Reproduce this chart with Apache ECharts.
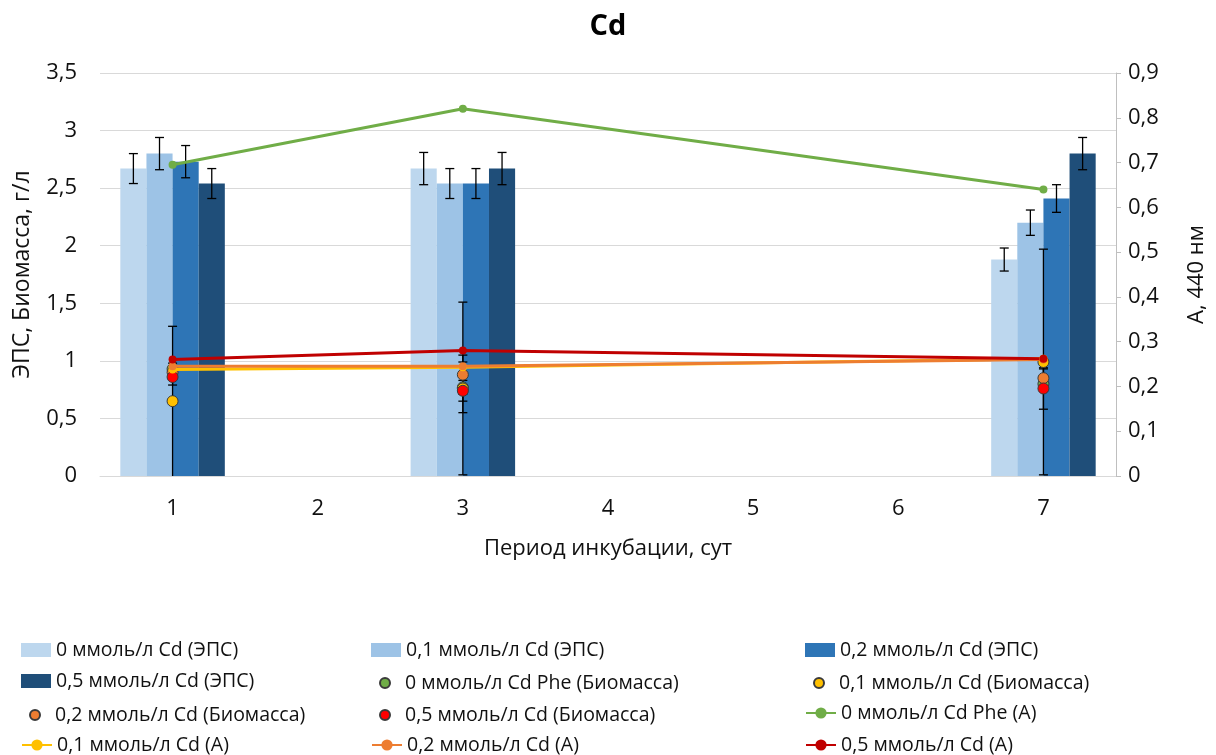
<!DOCTYPE html>
<html>
<head>
<meta charset="utf-8">
<script src="https://cdn.jsdelivr.net/npm/echarts@6/dist/echarts.min.js"></script>
<style>
  html, body { margin: 0; padding: 0; background: #fff; }
  #main { width: 1216px; height: 755px; }
</style>
</head>
<body>
<div id="main"></div>
<script>
// периоды инкубации
var days = ['1', '2', '3', '4', '5', '6', '7'];

// ЭПС, г/л (столбцы)
var eps0 = [2.67, '-', 2.67, '-', '-', '-', 1.88];
var eps01 = [2.8, '-', 2.54, '-', '-', '-', 2.2];
var eps02 = [2.73, '-', 2.54, '-', '-', '-', 2.41];
var eps05 = [2.54, '-', 2.67, '-', '-', '-', 2.8];
var eps0Err = [0.13, 0, 0.14, 0, 0, 0, 0.1];
var eps01Err = [0.14, 0, 0.13, 0, 0, 0, 0.11];
var eps02Err = [0.14, 0, 0.13, 0, 0, 0, 0.12];
var eps05Err = [0.13, 0, 0.14, 0, 0, 0, 0.14];

// Биомасса, г/л (точки) - только дни 1, 3, 7
var bioDays = [0, 2, 6];
var bio0 = [0.93, 0.77, 0.8];
var bio01 = [0.65, 0.76, 0.99];
var bio02 = [0.9, 0.88, 0.85];
var bio05 = [0.86, 0.74, 0.76];
var bio0Err = [0.05, 0.22, 0.05];
var bio01Err = [0.65, 0.75, 0.98];
var bio02Err = [0.05, 0.17, 0.08];
var bio05Err = [0.07, 0.09, 0.18];

// А, 440 нм (линии)
var abs0 = [0.695, null, 0.82, null, null, null, 0.64];
var abs01 = [0.238, null, 0.243, null, null, null, 0.262];
var abs02 = [0.245, null, 0.245, null, null, null, 0.26];
var abs05 = [0.26, null, 0.28, null, null, null, 0.262];

var names = [
     '0 ммоль/л Cd (ЭПС)', '0,1 ммоль/л Cd (ЭПС)', '0,2 ммоль/л Cd (ЭПС)',
     '0,5 ммоль/л Cd (ЭПС)', '0 ммоль/л Cd Phe (Биомасса)', '0,1 ммоль/л Cd (Биомасса)',
     '0,2 ммоль/л Cd (Биомасса)', '0,5 ммоль/л Cd (Биомасса)', '0 ммоль/л Cd Phe (A)',
     '0,1 ммоль/л Cd (A)', '0,2 ммоль/л Cd (A)', '0,5 ммоль/л Cd (A)'
];

var FONT = 'Open Sans';
var barColors = ['#BDD7EE', '#9DC3E6', '#2E75B6', '#1F4E79'];
var dotColors = ['#70AD47', '#FFC000', '#ED7D31', '#FF0000'];
var lineColors = ['#70AD47', '#FFC000', '#ED7D31', '#C00000'];
var BAR_GAP = 0.28;

function comma(v) {
     if (v === 0) return '0';
     return String(+v.toFixed(2)).replace('.', ',');
}

// ус погрешности: смещение для столбца (idx) или по центру (idx = null)
function errRender(idx) {
     return function (params, api) {
          var cat = api.value(0), v = api.value(1), e = api.value(2);
          var band = api.size([1, 0])[0];
          var bw = band * (1 - BAR_GAP) / 4;
          var dx = idx == null ? 0 : (idx - 1.5) * bw;
          var lo = Math.max(v - e, 0);
          var top = api.coord([cat, v + e]);
          var bot = api.coord([cat, lo]);
          var x = top[0] + dx;
          var cap = 4.5;
          var st = { stroke: '#000', lineWidth: 1.3 };
          var children = [
               { type: 'line', shape: { x1: x, y1: top[1], x2: x, y2: bot[1] }, style: st },
               { type: 'line', shape: { x1: x - cap, y1: top[1], x2: x + cap, y2: top[1] }, style: st }
          ];
          if (lo > 0) {
               children.push({ type: 'line', shape: { x1: x - cap, y1: bot[1], x2: x + cap, y2: bot[1] }, style: st });
          }
          return { type: 'group', children: children };
     };
}

function barErrData(vals, errs) {
     var out = [];
     vals.forEach(function (v, i) {
          if (v !== '-') out.push([i, v, errs[i]]);
     });
     return out;
}
function bioData(vals) {
     return vals.map(function (v, i) { return [bioDays[i], v]; });
}
function bioErrData(vals, errs) {
     return vals.map(function (v, i) { return [bioDays[i], v, errs[i]]; });
}

var epsSets = [eps0, eps01, eps02, eps05];
var epsErrSets = [eps0Err, eps01Err, eps02Err, eps05Err];
var bioSets = [bio0, bio01, bio02, bio05];
var bioErrSets = [bio0Err, bio01Err, bio02Err, bio05Err];
var absSets = [abs0, abs01, abs02, abs05];

var series = [];
epsSets.forEach(function (d, i) {
     series.push({
          name: names[i], type: 'bar', yAxisIndex: 0, data: d,
          barGap: 0, barCategoryGap: (BAR_GAP * 100) + '%',
          itemStyle: { color: barColors[i] }, z: 2
     });
});
epsSets.forEach(function (d, i) {
     series.push({
          type: 'custom', yAxisIndex: 0, renderItem: errRender(i),
          data: barErrData(d, epsErrSets[i]), encode: { x: 0, y: 1 }, z: 3, silent: true
     });
});
bioSets.forEach(function (d, i) {
     series.push({
          type: 'custom', yAxisIndex: 0, renderItem: errRender(null),
          data: bioErrData(d, bioErrSets[i]), encode: { x: 0, y: 1 }, z: 4, silent: true
     });
});
bioSets.forEach(function (d, i) {
     series.push({
          name: names[4 + i], type: 'scatter', yAxisIndex: 0, data: bioData(d),
          symbolSize: 11,
          itemStyle: { color: dotColors[i], borderColor: '#3a3a3a', borderWidth: 1, opacity: 1 },
          z: 5
     });
});
absSets.forEach(function (d, i) {
     series.push({
          name: names[8 + i], type: 'line', yAxisIndex: 1, data: d, connectNulls: true,
          symbol: 'circle', symbolSize: 8, showSymbol: true,
          lineStyle: { color: lineColors[i], width: 3 },
          itemStyle: { color: lineColors[i] }, z: 6
     });
});

// легенда: 4 строки x 3 колонки
var colX = [21, 371, 805];
var rowY = [647, 678, 710, 742];
var legends = names.map(function (n, i) {
     var col = i % 3, row = Math.floor(i / 3);
     var kind = i < 4 ? 'bar' : (i < 8 ? 'dot' : 'line');
     var h = kind === 'dot' ? 10 : 14;
     var item = { name: n };
     if (kind === 'dot') item.icon = 'circle';
     if (kind === 'bar') item.icon = 'rect';
     return {
          data: [item], left: colX[col] + (kind === 'dot' ? 8 : 0), top: rowY[row] - h / 2,
          itemWidth: 30, itemHeight: h, selectedMode: false, padding: 0,
          textStyle: { fontFamily: FONT, fontSize: 19.5, color: '#111' }
     };
});

var myChart = echarts.init(document.getElementById('main'));
var option = {
     animation: false,
     title: {
          text: 'Cd', left: 'center', top: 7,
          textStyle: { fontFamily: FONT, fontSize: 29, fontWeight: 'bold', color: '#000' }
     },
     legend: legends,
     grid: { left: 100, right: 99, top: 73, bottom: 279, containLabel: false },
     xAxis: {
          type: 'category', data: days,
          name: 'Период инкубации, сут', nameLocation: 'middle', nameGap: 62,
          nameTextStyle: { fontFamily: FONT, fontSize: 22, color: '#111' },
          axisLine: { lineStyle: { color: '#D9D9D9' } },
          axisTick: { show: false },
          axisLabel: { fontFamily: FONT, fontSize: 22, color: '#111', margin: 22 }
     },
     yAxis: [{
          type: 'value', min: 0, max: 3.5, interval: 0.5,
          name: 'ЭПС, Биомасса, г/л', nameLocation: 'middle', nameGap: 66, nameRotate: 90,
          nameTextStyle: { fontFamily: FONT, fontSize: 23, color: '#111' },
          axisLine: { show: false }, axisTick: { show: false },
          splitLine: { lineStyle: { color: '#D9D9D9' } },
          axisLabel: { fontFamily: FONT, fontSize: 22, color: '#111', margin: 23, formatter: comma }
     }, {
          type: 'value', min: 0, max: 0.9, interval: 0.1, position: 'right',
          name: 'А, 440 нм', nameLocation: 'middle', nameGap: 70, nameRotate: 90,
          nameTextStyle: { fontFamily: FONT, fontSize: 22, color: '#111' },
          axisLine: { show: true, lineStyle: { color: '#BFBFBF' } },
          axisTick: { show: true, length: 5, lineStyle: { color: '#BFBFBF' } },
          splitLine: { show: false },
          axisLabel: { fontFamily: FONT, fontSize: 22, color: '#111', margin: 12, formatter: comma }
     }],
     series: series
};
myChart.setOption(option);
</script>
</body>
</html>
